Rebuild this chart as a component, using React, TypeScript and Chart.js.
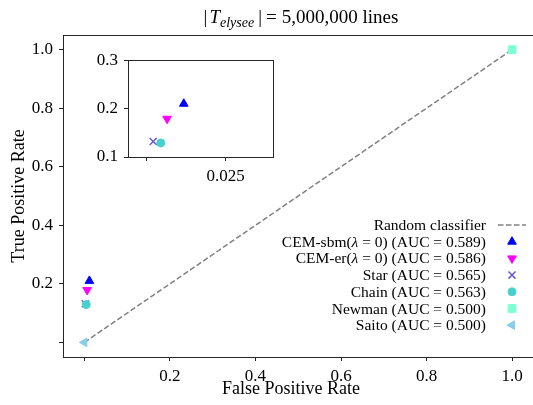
import React, { useEffect, useRef } from 'react';
import { Chart, registerables } from 'chart.js';
import { drawPoint } from 'chart.js/helpers';
Chart.register(...registerables);

const FONT = "'Liberation Serif', serif";

const titleParts = ['|', 'T', 'elysee', '|', '=', '5,000,000 lines'];
const xLabel = 'False Positive Rate';
const yLabel = 'True Positive Rate';

const randomLabel = 'Random classifier';
const randomX = [0, 1];
const randomY = [0, 1];

const methodNames = [
  'CEM-sbm(λ = 0) (AUC = 0.589)',
  'CEM-er(λ = 0) (AUC = 0.586)',
  'Star (AUC = 0.565)',
  'Chain (AUC = 0.563)',
  'Newman (AUC = 0.500)',
  'Saito (AUC = 0.500)',
];
const methodFPR = [0.0117, 0.0064, 0.002, 0.0044, 1.0, 0.0];
const methodTPR = [0.21, 0.179, 0.132, 0.129, 1.0, 0.0];
const methodColors = ['#0000ff', '#ff00ff', '#6a5acd', '#48d1cc', '#7fffd4', '#87ceeb'];
const methodMarkers = ['triangle', 'triangle', 'crossRot', 'circle', 'rect', 'triangle'];
const methodRotation = [0, 180, 0, 0, 0, -90];
const methodRadius = [5, 5, 5, 4, 5.5, 5];

const mainXTicks = [0, 0.2, 0.4, 0.6, 0.8, 1.0];
const mainYTicks = [0, 0.2, 0.4, 0.6, 0.8, 1.0];
const insetXTicks = [0, 0.025];
const insetYTicks = [0.1, 0.2, 0.3];

const SPINE = '#262626';
const TICK_SIZE = 17;
const LABEL_SIZE = 18;
const LEGEND_SIZE = 15.5;
const TITLE_SIZE = 19;

function axis(min: number, max: number, ticks: number[], fmt: (v: number) => string, fit: (s: any) => void, pad: number) {
  return {
    type: 'linear' as const,
    min,
    max,
    afterBuildTicks: (s: any) => {
      s.ticks = ticks.map((v) => ({ value: v }));
    },
    afterFit: fit,
    border: { display: false },
    grid: { drawOnChartArea: false, drawTicks: true, tickLength: 4, color: SPINE, tickColor: SPINE, lineWidth: 1 },
    ticks: {
      callback: (v: any) => fmt(Number(v)),
      color: '#000',
      font: { family: FONT, size: TICK_SIZE },
      padding: pad,
      autoSkip: false,
      maxRotation: 0,
    },
  };
}

function scatterSets() {
  return methodNames.map((name, i) => ({
    type: 'scatter' as const,
    label: name,
    data: [{ x: methodFPR[i], y: methodTPR[i] }],
    backgroundColor: methodColors[i],
    borderColor: methodColors[i],
    borderWidth: methodMarkers[i] === 'crossRot' ? 1.5 : 1,
    pointStyle: methodMarkers[i],
    rotation: methodRotation[i],
    pointRadius: methodRadius[i],
    order: -(i + 1),
  }));
}

const framePlugin = {
  id: 'frame',
  beforeDatasetsDraw(chart: any) {
    const { ctx, chartArea: a } = chart;
    if (chart.canvas.dataset.inset) {
      ctx.save();
      ctx.fillStyle = '#fff';
      ctx.fillRect(a.left, a.top, a.right - a.left, a.bottom - a.top);
      ctx.restore();
    }
  },
  afterDatasetsDraw(chart: any) {
    const { ctx, chartArea: a } = chart;
    ctx.save();
    ctx.strokeStyle = SPINE;
    ctx.lineWidth = 1;
    ctx.strokeRect(Math.round(a.left) + 0.5, Math.round(a.top) + 0.5, Math.round(a.right - a.left), Math.round(a.bottom - a.top));
    ctx.restore();
  },
};

// draw a label right-aligned at xr, with any 'λ' in italic
function drawRightText(ctx: CanvasRenderingContext2D, text: string, xr: number, y: number, size: number) {
  const pieces = text.split(/(λ)/).filter((p) => p.length > 0);
  const fonts = pieces.map((p) => (p === 'λ' ? `italic ${size}px ${FONT}` : `${size}px ${FONT}`));
  const widths = pieces.map((p, i) => {
    ctx.font = fonts[i];
    return ctx.measureText(p).width;
  });
  let x = xr - widths.reduce((a, b) => a + b, 0);
  ctx.textAlign = 'left';
  pieces.forEach((p, i) => {
    ctx.font = fonts[i];
    ctx.fillText(p, x, y);
    x += widths[i];
  });
}

const textPlugin = {
  id: 'texts',
  afterDraw(chart: any) {
    const ctx = chart.ctx;
    ctx.save();
    ctx.fillStyle = '#000';
    // title: pieces laid out with math-like spacing
    const fonts = [
      `${TITLE_SIZE}px ${FONT}`,
      `italic ${TITLE_SIZE}px ${FONT}`,
      `italic ${TITLE_SIZE * 0.74}px ${FONT}`,
      `${TITLE_SIZE}px ${FONT}`,
      `${TITLE_SIZE}px ${FONT}`,
      `${TITLE_SIZE}px ${FONT}`,
    ];
    const offs = [0, 0, 4, 0, 0, 0];
    const gapsBefore = [0, 2, 0, 4, 4, 5];
    let total = 0;
    const widths = titleParts.map((t, i) => {
      ctx.font = fonts[i];
      const w = ctx.measureText(t).width;
      total += w + gapsBefore[i];
      return w;
    });
    let x = 301 - total / 2;
    ctx.textBaseline = 'alphabetic';
    ctx.textAlign = 'left';
    titleParts.forEach((t, i) => {
      x += gapsBefore[i];
      ctx.font = fonts[i];
      ctx.fillText(t, x, 23 + offs[i]);
      x += widths[i];
    });
    // axis labels
    ctx.font = `${LABEL_SIZE}px ${FONT}`;
    ctx.textAlign = 'center';
    ctx.fillText(xLabel, 291, 394);
    ctx.save();
    ctx.translate(24, 196);
    ctx.rotate(-Math.PI / 2);
    ctx.fillText(yLabel, 0, 0);
    ctx.restore();
    // legend
    const rows = [randomLabel, ...methodNames];
    ctx.textBaseline = 'middle';
    rows.forEach((r, i) => {
      const y = 225 + i * 16.7;
      ctx.fillStyle = '#000';
      drawRightText(ctx, r, 486, y + 1, LEGEND_SIZE);
      if (i === 0) {
        ctx.save();
        ctx.strokeStyle = '#808080';
        ctx.lineWidth = 1.5;
        ctx.setLineDash([5.5, 2.5]);
        ctx.beginPath();
        ctx.moveTo(498, y);
        ctx.lineTo(526, y);
        ctx.stroke();
        ctx.restore();
      } else {
        const k = i - 1;
        ctx.save();
        ctx.fillStyle = methodColors[k];
        ctx.strokeStyle = methodColors[k];
        ctx.lineWidth = methodMarkers[k] === 'crossRot' ? 1.5 : 1;
        drawPoint(ctx, {
          pointStyle: methodMarkers[k] as any,
          rotation: methodRotation[k],
          radius: methodRadius[k],
          borderWidth: ctx.lineWidth,
        }, 512, y);
        ctx.restore();
      }
    });
    ctx.restore();
  },
};

export default function App() {
  const mainRef = useRef<HTMLCanvasElement>(null);
  const insetRef = useRef<HTMLCanvasElement>(null);

  useEffect(() => {
    const main = new Chart(mainRef.current!, {
      type: 'scatter',
      data: {
        datasets: [
          {
            type: 'scatter' as const,
            label: randomLabel,
            data: randomX.map((x, i) => ({ x, y: randomY[i] })),
            showLine: true,
            borderColor: '#808080',
            borderWidth: 1.5,
            borderDash: [5.5, 2.5],
            pointRadius: 0,
            order: 0,
          } as any,
          ...scatterSets(),
        ],
      },
      options: {
        animation: false,
        responsive: false,
        devicePixelRatio: 1,
        layout: { padding: { top: 35, right: 3, left: 0, bottom: 0 } },
        plugins: { legend: { display: false }, tooltip: { enabled: false }, title: { display: false } },
        scales: {
          x: axis(-0.05, 1.05, mainXTicks, (v) => (v === 0 ? '' : v.toFixed(1)), (s: any) => { s.height = 48; }, 5),
          y: axis(-0.05, 1.05, mainYTicks, (v) => (v === 0 ? '' : v.toFixed(1)), (s: any) => { s.width = 63; }, 6),
        },
      } as any,
      plugins: [framePlugin, textPlugin],
    });

    const inset = new Chart(insetRef.current!, {
      type: 'scatter',
      data: { datasets: scatterSets() as any },
      options: {
        animation: false,
        responsive: false,
        devicePixelRatio: 1,
        layout: { padding: { top: 12, right: 7, left: 0, bottom: 0 } },
        plugins: { legend: { display: false }, tooltip: { enabled: false } },
        scales: {
          x: axis(-0.006, 0.04, insetXTicks, (v) => (v === 0 ? '' : v.toFixed(3)), (s: any) => { s.height = 33; }, 5),
          y: axis(0.1, 0.3, insetYTicks, (v) => v.toFixed(1), (s: any) => { s.width = 48; }, 6),
        },
      } as any,
      plugins: [framePlugin],
    });

    return () => {
      main.destroy();
      inset.destroy();
    };
  }, []);

  return (
    <div style={{ position: 'fixed', left: 0, top: 0, width: 533, height: 405, overflow: 'hidden', background: '#fff' }}>
      <canvas ref={mainRef} width={540} height={405} style={{ position: 'absolute', left: 0, top: 0 }} />
      <canvas ref={insetRef} data-inset="1" width={200} height={146} style={{ position: 'absolute', left: 80, top: 44 }} />
    </div>
  );
}
